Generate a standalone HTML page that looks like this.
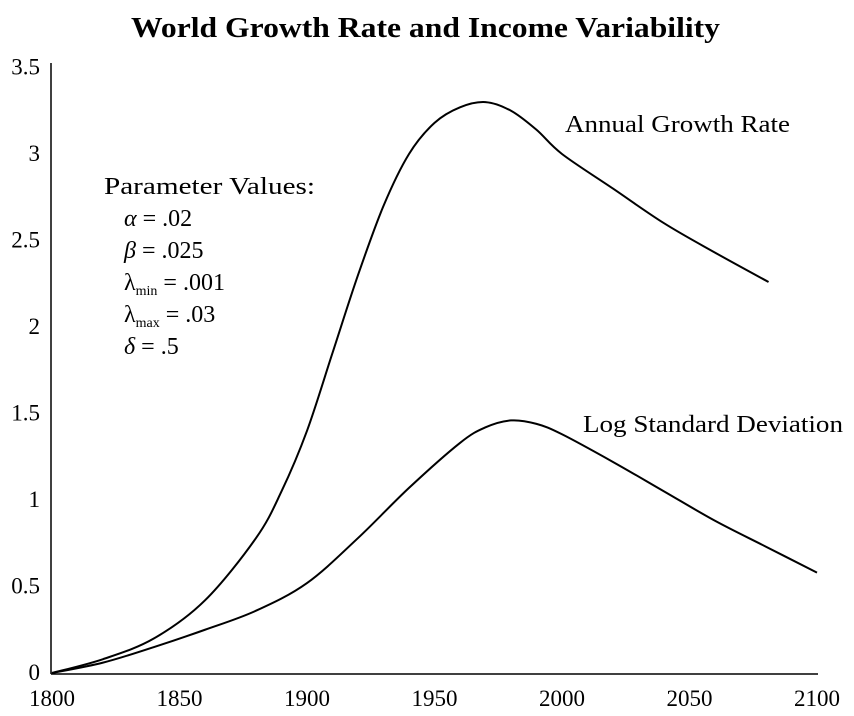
<!DOCTYPE html>
<html><head><meta charset="utf-8"><style>
body{margin:0;background:#fff}
svg{display:block;font-family:"Liberation Serif",serif}
</style></head><body>
<svg width="854" height="716" viewBox="0 0 854 716">
<text x="131" y="37" font-size="28" font-weight="bold" textLength="589" lengthAdjust="spacingAndGlyphs">World Growth Rate and Income Variability</text>
<g id="axes"></g>
<g id="series"></g>
<text x="565" y="132" font-size="24" textLength="225" lengthAdjust="spacingAndGlyphs">Annual Growth Rate</text>
<text x="583" y="432" font-size="24" textLength="260" lengthAdjust="spacingAndGlyphs">Log Standard Deviation</text>
<g font-size="24">
<text x="104" y="194" textLength="211" lengthAdjust="spacingAndGlyphs">Parameter Values:</text>
<text x="124" y="226"><tspan font-style="italic">α</tspan> = .02</text>
<text x="124" y="258"><tspan font-style="italic">β</tspan> = .025</text>
<text x="124" y="290">λ<tspan font-size="14" dy="5">min</tspan><tspan dy="-5"> = .001</tspan></text>
<text x="124" y="322">λ<tspan font-size="14" dy="5">max</tspan><tspan dy="-5"> = .03</tspan></text>
<text x="124" y="354"><tspan font-style="italic">δ</tspan> = .5</text>
</g>
</svg>
<script>
const xTicks=[1800,1850,1900,1950,2000,2050,2100];
const yTicks=[0,0.5,1,1.5,2,2.5,3,3.5];
const yTickLabels=["0","0.5","1","1.5","2","2.5","3","3.5"];
const growthYears=[1800,1820,1840,1860,1880,1890,1900,1910,1920,1930,1940,1950,1960,1970,1980,1990,2000,2020,2040,2060,2081];
const growthValues=[0,0.08,0.2,0.42,0.78,1.05,1.4,1.85,2.3,2.7,3.0,3.18,3.27,3.3,3.25,3.14,3.0,2.8,2.6,2.43,2.26];
const sdYears=[1800,1820,1840,1860,1880,1900,1920,1940,1960,1970,1980,1990,2000,2020,2040,2060,2080,2100];
const sdValues=[0,0.06,0.15,0.25,0.36,0.52,0.78,1.07,1.33,1.42,1.46,1.44,1.38,1.22,1.05,0.88,0.73,0.58];
const NS="http://www.w3.org/2000/svg";
const X=y=>52+(y-1800)*(765/300);
const Y=v=>673-v*173;
const axes=document.getElementById('axes');
function mk(t,a,p){const e=document.createElementNS(NS,t);for(const k in a)e.setAttribute(k,a[k]);p.appendChild(e);return e;}
const ya=mk('line',{x1:51,y1:63,x2:51,y2:674,stroke:'#000','stroke-width':1.5},axes);


const xa=mk('line',{x1:51,y1:674,x2:818,y2:674,stroke:'#000','stroke-width':1.5},axes);


xTicks.forEach(t=>{const e=mk('text',{x:X(t),y:706,'text-anchor':'middle','font-size':23},axes);e.textContent=t;

});
yTicks.forEach((t,i)=>{const e=mk('text',{x:40,y:Y(t)+7,'text-anchor':'end','font-size':23},axes);e.textContent=yTickLabels[i];

});
function path(xs,vs){const p=xs.map((x,i)=>[X(x),Y(vs[i])]);let d=`M${p[0][0]},${p[0][1]}`;
for(let i=0;i<p.length-1;i++){const p0=p[i-1]||p[i],p1=p[i],p2=p[i+1],p3=p[i+2]||p2;
d+=` C${p1[0]+(p2[0]-p0[0])/6},${p1[1]+(p2[1]-p0[1])/6} ${p2[0]-(p3[0]-p1[0])/6},${p2[1]-(p3[1]-p1[1])/6} ${p2[0]},${p2[1]}`;}return d;}
const s=document.getElementById('series');
const g=mk('path',{d:path(growthYears,growthValues),fill:'none',stroke:'#000','stroke-width':2},s);


const sd=mk('path',{d:path(sdYears,sdValues),fill:'none',stroke:'#000','stroke-width':2},s);


</script>
</body></html>
